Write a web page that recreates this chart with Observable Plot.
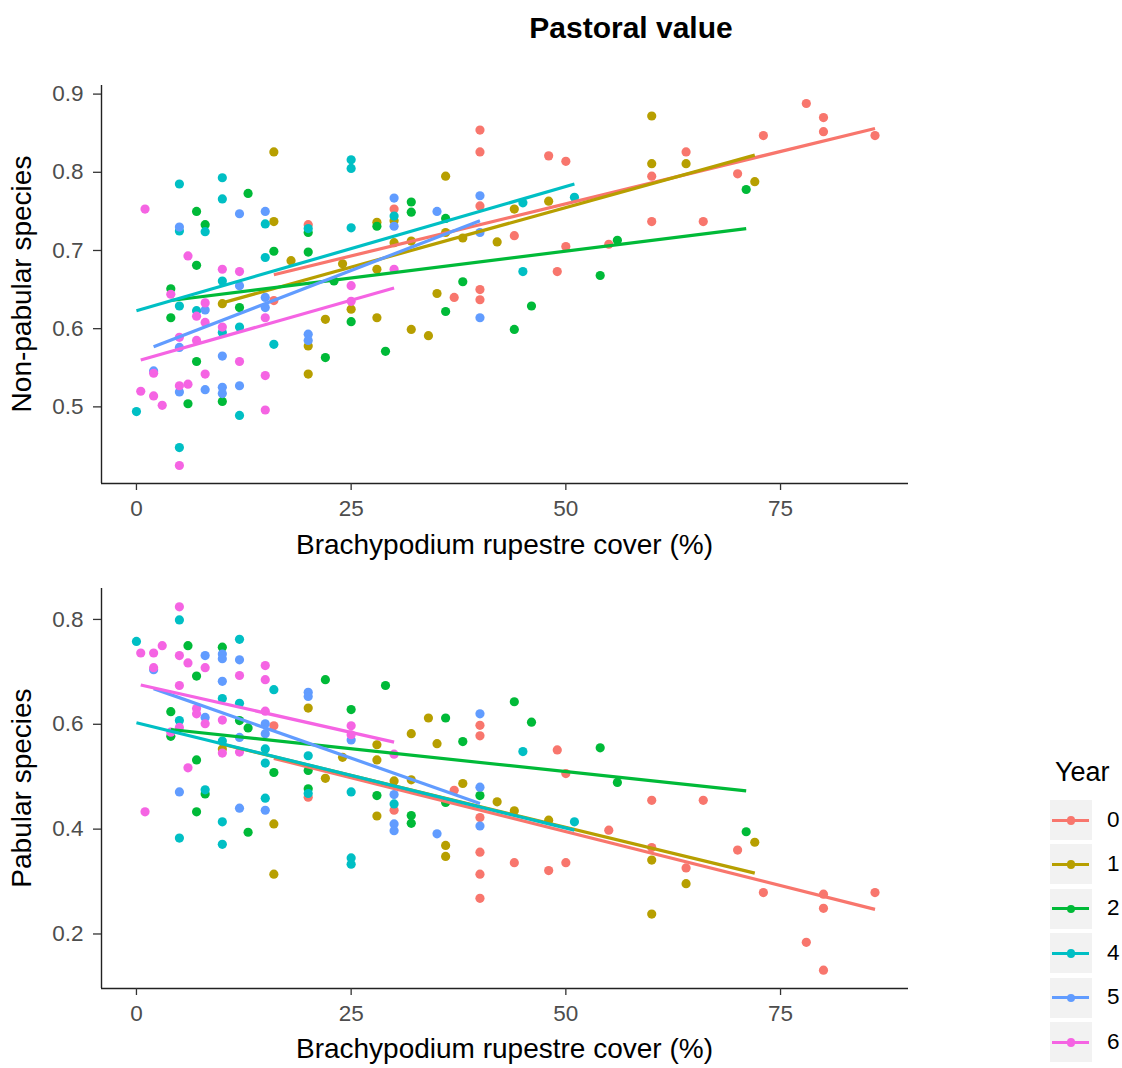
<!DOCTYPE html>
<html><head><meta charset="utf-8">
<script src="https://cdn.jsdelivr.net/npm/d3@7"></script>
<script src="https://cdn.jsdelivr.net/npm/@observablehq/plot@0.6"></script>
<style>
body{margin:0;background:#fff;font-family:"Liberation Sans",Arial,sans-serif;}
#root{position:relative;width:1122px;height:1068px;overflow:hidden;background:#fff;}
.abs{position:absolute;white-space:nowrap;}
</style></head><body><div id="root"></div>
<script>
const years = [0, 1, 2, 4, 5, 6];
const colors = ["#F8766D", "#B79F00", "#00BA38", "#00BFC4", "#619CFF", "#F564E3"];
const xTicks = [0, 25, 50, 75];
const nonPabTicks = [0.5, 0.6, 0.7, 0.8, 0.9];
const pabTicks = [0.2, 0.4, 0.6, 0.8];

// Non-pabular species: [cover %, value] per year
const nonPab0 = [[16,0.636],[20,0.733],[30,0.753],[37,0.640],[40,0.854],[40,0.826],[40,0.757],[40,0.650],[40,0.637],[44,0.719],[48,0.821],[50,0.814],[49,0.673],[50,0.705],[55,0.708],[60,0.795],[60,0.737],[64,0.826],[66,0.737],[70,0.798],[73,0.847],[78,0.888],[80,0.870],[80,0.852],[86,0.847]];
const nonPab1 = [[10,0.632],[16,0.826],[16,0.737],[18,0.687],[20,0.578],[20,0.542],[22,0.612],[24,0.683],[25,0.625],[28,0.736],[28,0.676],[28,0.614],[30,0.738],[30,0.710],[32,0.712],[32,0.599],[34,0.591],[35,0.645],[36,0.795],[36,0.723],[38,0.716],[42,0.711],[44,0.753],[48,0.763],[60,0.872],[60,0.811],[64,0.811],[72,0.788]];
const nonPab2 = [[4,0.651],[4,0.614],[6,0.504],[7,0.750],[7,0.681],[7,0.558],[8,0.733],[10,0.507],[12,0.627],[13,0.773],[16,0.699],[20,0.723],[20,0.698],[22,0.563],[23,0.661],[25,0.609],[28,0.731],[29,0.571],[32,0.762],[32,0.749],[36,0.741],[36,0.622],[38,0.660],[44,0.599],[46,0.629],[54,0.668],[56,0.713],[71,0.778]];
const nonPab4 = [[0,0.494],[5,0.785],[5,0.725],[5,0.629],[5,0.448],[7,0.623],[8,0.724],[10,0.793],[10,0.766],[10,0.661],[10,0.595],[12,0.602],[12,0.489],[15,0.734],[15,0.691],[16,0.580],[20,0.728],[25,0.816],[25,0.805],[25,0.729],[30,0.744],[45,0.761],[45,0.673],[51,0.768]];
const nonPab5 = [[2,0.546],[5,0.730],[5,0.576],[5,0.519],[8,0.624],[8,0.522],[10,0.565],[10,0.525],[10,0.517],[12,0.747],[12,0.655],[12,0.527],[15,0.750],[15,0.640],[15,0.627],[20,0.593],[20,0.585],[30,0.767],[30,0.731],[35,0.750],[40,0.770],[40,0.723],[40,0.614]];
const nonPab6 = [[0.5,0.520],[1,0.753],[2,0.543],[2,0.514],[3,0.502],[4,0.644],[5,0.589],[5,0.527],[5,0.425],[6,0.693],[6,0.529],[7,0.616],[7,0.585],[8,0.633],[8,0.608],[8,0.542],[10,0.676],[10,0.602],[12,0.673],[12,0.558],[15,0.614],[15,0.540],[15,0.496],[25,0.655],[25,0.635],[30,0.676]];

// Pabular species
const pab0 = [[16,0.597],[20,0.461],[30,0.436],[37,0.474],[40,0.598],[40,0.578],[40,0.422],[40,0.356],[40,0.314],[40,0.268],[44,0.336],[48,0.321],[49,0.551],[50,0.506],[50,0.336],[55,0.398],[60,0.455],[60,0.365],[64,0.326],[66,0.455],[70,0.360],[73,0.279],[78,0.184],[80,0.276],[80,0.249],[80,0.131],[86,0.279]];
const pab1 = [[10,0.553],[16,0.410],[16,0.314],[20,0.631],[22,0.497],[24,0.537],[28,0.561],[28,0.532],[28,0.425],[30,0.492],[32,0.582],[32,0.494],[34,0.612],[35,0.563],[36,0.369],[36,0.348],[38,0.487],[42,0.452],[44,0.435],[48,0.417],[60,0.341],[60,0.238],[64,0.296],[72,0.375]];
const pab2 = [[4,0.624],[4,0.577],[6,0.750],[7,0.692],[7,0.532],[7,0.433],[8,0.467],[10,0.747],[12,0.607],[13,0.593],[13,0.394],[16,0.508],[20,0.512],[20,0.477],[22,0.685],[25,0.628],[28,0.464],[29,0.674],[32,0.426],[32,0.411],[36,0.612],[36,0.451],[38,0.567],[40,0.464],[44,0.643],[46,0.604],[54,0.555],[56,0.489],[71,0.395]];
const pab4 = [[0,0.758],[5,0.799],[5,0.607],[5,0.383],[8,0.475],[10,0.649],[10,0.568],[10,0.414],[10,0.371],[12,0.762],[12,0.640],[15,0.553],[15,0.526],[15,0.459],[16,0.666],[20,0.540],[20,0.468],[25,0.471],[25,0.345],[25,0.333],[30,0.448],[45,0.548],[51,0.414]];
const pab5 = [[2,0.704],[5,0.471],[8,0.731],[8,0.613],[10,0.734],[10,0.725],[10,0.682],[12,0.723],[12,0.575],[12,0.440],[15,0.601],[15,0.582],[15,0.436],[20,0.661],[20,0.653],[25,0.570],[30,0.466],[30,0.410],[30,0.397],[35,0.391],[40,0.620],[40,0.480],[40,0.406]];
const pab6 = [[0.5,0.736],[1,0.433],[2,0.736],[2,0.708],[3,0.750],[4,0.585],[5,0.824],[5,0.731],[5,0.674],[5,0.594],[6,0.717],[6,0.517],[7,0.630],[7,0.620],[8,0.708],[8,0.601],[10,0.608],[10,0.545],[12,0.693],[12,0.547],[15,0.712],[15,0.685],[15,0.625],[25,0.597],[25,0.580],[30,0.543]];

// Fitted lines (per year): start/end cover and fitted values
const fitStart = [16, 10, 4, 0, 2, 0.5];
const fitEnd = [86, 72, 71, 51, 40, 30];
const nonPabFitStart = [0.669, 0.633, 0.636, 0.623, 0.577, 0.560];
const nonPabFitEnd = [0.856, 0.822, 0.728, 0.785, 0.738, 0.652];
const pabFitStart = [0.535, 0.562, 0.590, 0.603, 0.668, 0.675];
const pabFitEnd = [0.247, 0.316, 0.473, 0.398, 0.449, 0.566];

const xDomain = [-4.07, 89.9];
const nonPabDomain = [0.402, 0.911];
const pabDomain = [0.096, 0.859];

const FONT = "'Liberation Sans', Arial, Helvetica, sans-serif";

function toPoints(groups) {
  return groups.flatMap((arr, i) => arr.map(([x, y]) => ({year: String(years[i]), x, y})));
}
function toFit(starts, ends) {
  return years.flatMap((yr, i) => [
    {year: String(yr), x: fitStart[i], y: starts[i]},
    {year: String(yr), x: fitEnd[i], y: ends[i]}
  ]);
}

function panel(pts, fit, yDomain, yTicks, height, marginTop, marginBottom) {
  return Plot.plot({
    width: 940, height, marginLeft: 101, marginRight: 32, marginTop, marginBottom,
    style: {fontFamily: FONT, background: "transparent", overflow: "visible"},
    x: {domain: xDomain},
    y: {domain: yDomain},
    color: {domain: years.map(String), range: colors},
    marks: [
      Plot.dot(pts, {x: "x", y: "y", fill: "year", r: 4.6, stroke: "none"}),
      Plot.line(fit, {x: "x", y: "y", z: "year", stroke: "year", strokeWidth: 3.2, strokeLinecap: "butt"}),
      Plot.ruleX([xDomain[0]], {stroke: "#222", strokeWidth: 1.4}),
      Plot.ruleY([yDomain[0]], {stroke: "#222", strokeWidth: 1.4}),
      Plot.axisX({ticks: xTicks, tickFormat: d3.format("d"), tickSize: 7, tickPadding: 10, label: null, fontSize: 22.5, stroke: "#333", fill: "#4D4D4D", strokeWidth: 1.3}),
      Plot.axisY({ticks: yTicks, tickFormat: d3.format(".1f"), tickSize: 8, tickPadding: 10, label: null, fontSize: 22.5, stroke: "#333", fill: "#4D4D4D", strokeWidth: 1.3})
    ]
  });
}

const root = document.getElementById("root");
function addText(txt, css) {
  const d = document.createElement("div");
  d.className = "abs";
  d.textContent = txt;
  Object.assign(d.style, css);
  root.appendChild(d);
  return d;
}

const topChart = panel(toPoints([nonPab0, nonPab1, nonPab2, nonPab4, nonPab5, nonPab6]),
  toFit(nonPabFitStart, nonPabFitEnd), nonPabDomain, nonPabTicks, 560, 85, 77);
topChart.style.position = "absolute"; topChart.style.left = "0px"; topChart.style.top = "0px";
root.appendChild(topChart);

const bottomChart = panel(toPoints([pab0, pab1, pab2, pab4, pab5, pab6]),
  toFit(pabFitStart, pabFitEnd), pabDomain, pabTicks, 500, 28, 72);
bottomChart.style.position = "absolute"; bottomChart.style.left = "0px"; bottomChart.style.top = "560px";
root.appendChild(bottomChart);

// Title
addText("Pastoral value", {left: "331px", width: "600px", top: "13px", textAlign: "center",
  fontSize: "30px", lineHeight: "30px", fontWeight: "bold", color: "#000"});

// Axis titles
const xTitle = "Brachypodium rupestre cover (%)";
addText(xTitle, {left: "0px", width: "1009px", top: "531px", textAlign: "center", fontSize: "28px", lineHeight: "28px", color: "#000"});
addText(xTitle, {left: "0px", width: "1009px", top: "1035px", textAlign: "center", fontSize: "28px", lineHeight: "28px", color: "#000"});
function yTitle(txt, cy) {
  addText(txt, {left: (22.3 - 200) + "px", top: (cy - 14) + "px", width: "400px", textAlign: "center",
    fontSize: "28px", lineHeight: "28px", color: "#000", transform: "rotate(-90deg)", transformOrigin: "50% 50%"});
}
yTitle("Non-pabular species", 284);
yTitle("Pabular species", 788);

// Legend
addText("Year", {left: "1055px", top: "759px", fontSize: "27px", lineHeight: "27px", color: "#000"});
years.forEach((yr, i) => {
  const cy = 820 + i * 44.4;
  const box = document.createElement("div");
  box.className = "abs";
  Object.assign(box.style, {left: "1050px", top: (cy - 20) + "px", width: "42px", height: "40px", background: "#F2F2F2"});
  const ln = document.createElement("div");
  ln.className = "abs";
  Object.assign(ln.style, {left: "2px", top: "18.5px", width: "37px", height: "3px", background: colors[i]});
  const dt = document.createElement("div");
  dt.className = "abs";
  Object.assign(dt.style, {left: "16.5px", top: "16px", width: "8.5px", height: "8.5px", borderRadius: "50%", background: colors[i]});
  box.appendChild(ln); box.appendChild(dt);
  root.appendChild(box);
  addText(String(yr), {left: "1107px", top: (cy - 11.5) + "px", fontSize: "22.5px", lineHeight: "22.5px", color: "#000"});
});
</script></body></html>
